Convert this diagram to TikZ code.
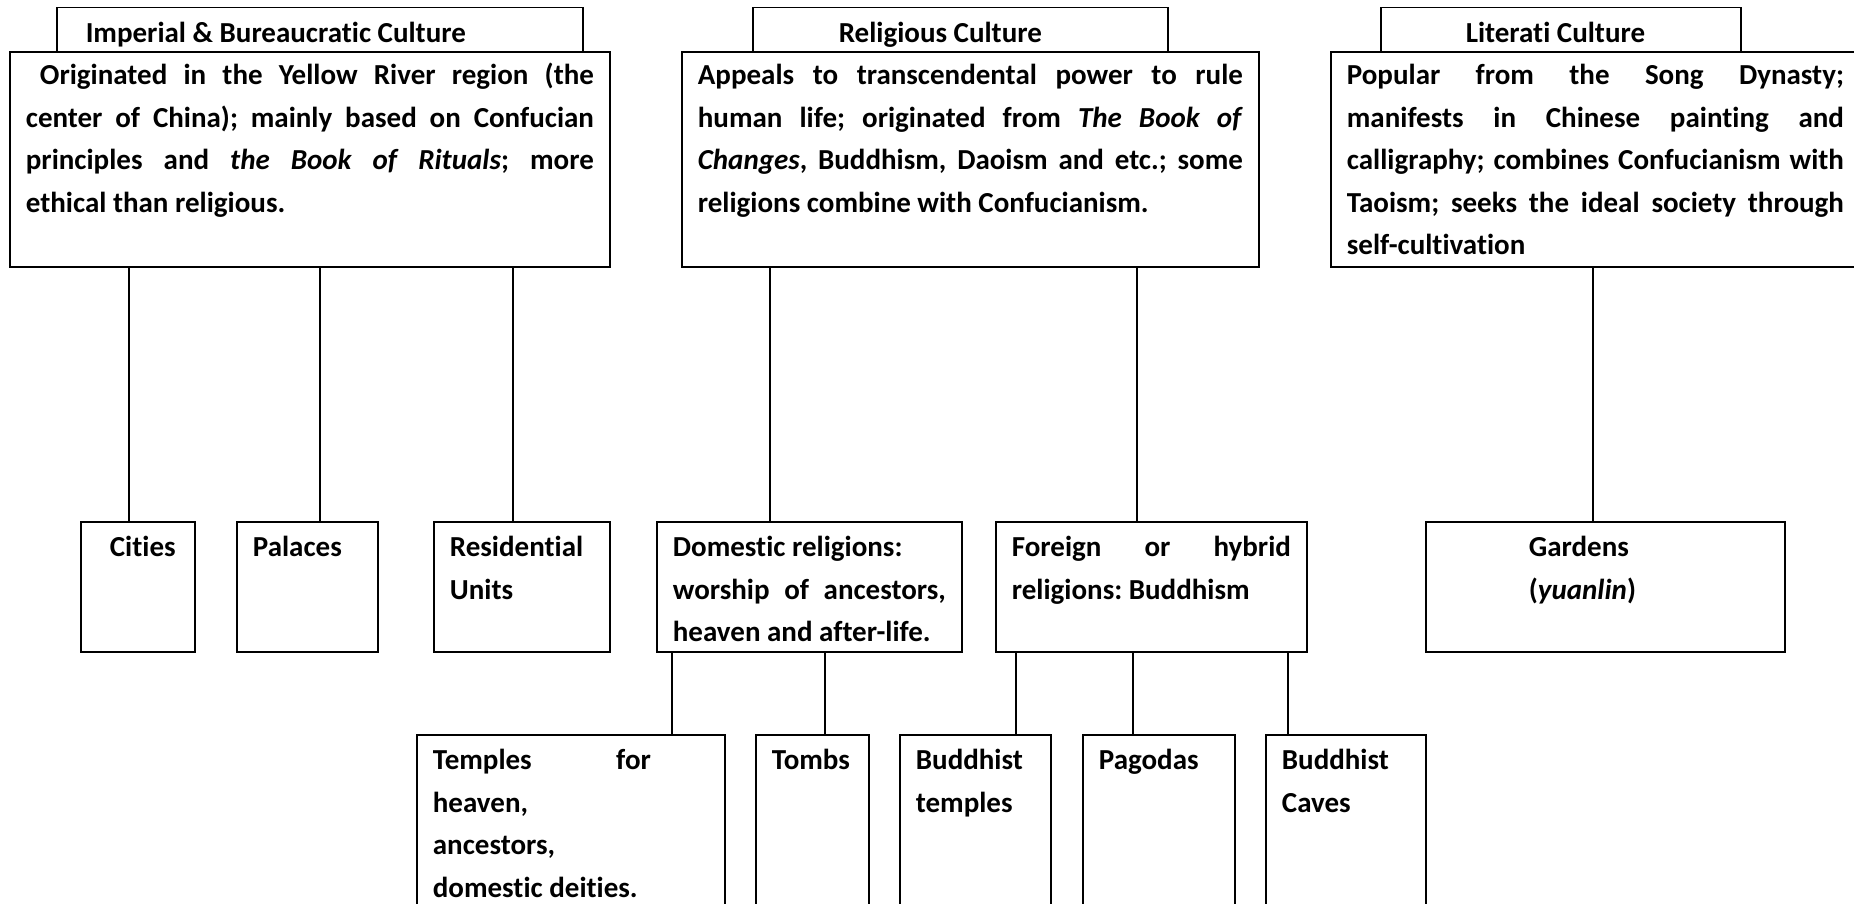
\documentclass[tikz,border=0pt]{standalone}
\usepackage{fontspec}
\setmainfont{Carlito}[Ligatures={NoCommon}]
\usepackage{tikz}
\exhyphenpenalty=10000
\hyphenpenalty=10000
\frenchspacing

\begin{document}
\begin{tikzpicture}[x=1pt,y=-1pt,every text node part/.style={align=justify}]
  \tikzstyle{box}=[draw,line width=1.8pt,anchor=north west,fill=white,
    inner xsep=16pt,inner ysep=0pt,text height=35pt,
    font=\fontsize{29}{42.5}\selectfont\bfseries]
  \tikzstyle{culture}=[box,text height=33pt,text depth=182pt]
  \tikzstyle{title}=[box,line width=1.5pt,inner xsep=0pt,
    text height=35pt,text depth=9pt]
  \tikzstyle{link}=[line width=1.3pt]
  \clip (0,0) rectangle (1854,904);

  \node [title,text width=526pt] (impT) at (56,7) {\hspace*{29pt}Imperial \& Bureaucratic Culture};
  \node [title,text width=415pt] (relT) at (752,7) {\hspace*{86pt}Religious Culture};
  \node [title,text width=360pt] (litT) at (1380,7) {\hspace*{85pt}Literati Culture};

  \node [culture,text width=568pt] (imp) at (9,51) {
    \hspace*{14pt}Originated in the Yellow River region (the\linebreak
    center of China); mainly based on Confucian\linebreak
    principles and \textit{the Book of Rituals}; more\linebreak
    ethical than religious.};
  \node [culture,text width=545pt] (rel) at (681,51) {
    Appeals to transcendental power to rule\linebreak
    human life; originated from \textit{The Book of}\linebreak
    \textit{Changes}, Buddhism, Daoism and etc.; some\linebreak
    religions combine with Confucianism.};
  \node [culture,text width=497pt] (lit) at (1330,51) {
    Popular from the Song Dynasty;\linebreak
    manifests in Chinese painting and\linebreak
    calligraphy; combines Confucianism with\linebreak
    Taoism; seeks the ideal society through\linebreak
    self-cultivation};

  \node [box,text width=82pt,text depth=95pt] (cities) at (80,521) {\hspace*{13pt}Cities};
  \node [box,text width=109pt,text depth=95pt] (palaces) at (236,521) {Palaces};
  \node [box,text width=144pt,text depth=95pt] (units) at (433,521) {Residential\\Units};
  \node [box,text width=273pt,text depth=95pt] (domestic) at (656,521) {
    Domestic religions:\\
    worship of ancestors,\linebreak
    heaven and after-life.};
  \node [box,text width=279pt,text depth=95pt] (foreign) at (995,521) {
    Foreign or hybrid\linebreak
    religions: Buddhism};
  \node [box,text width=327pt,text depth=95pt] (gardens) at (1425,521) {
    \hspace*{87pt}Gardens\\
    \hspace*{87pt}(\textit{yuanlin})};

  \node [box,text width=276pt,text depth=165pt] (temples) at (416,734) {
    \parbox[t]{218pt}{Temples for\linebreak
    heaven,\\ancestors,\\domestic deities.}};
  \node [box,text width=81pt,text depth=165pt] (tombs) at (755,734) {Tombs};
  \node [box,text width=119pt,text depth=165pt] (btemples) at (899,734) {Buddhist\\temples};
  \node [box,text width=120pt,text depth=165pt] (pagodas) at (1082,734) {Pagodas};
  \node [box,text width=128pt,text depth=165pt] (caves) at (1265,734) {Buddhist\\Caves};

  \draw [link] (imp.south -| 129,0) -- (cities.north -| 129,0);
  \draw [link] (imp.south -| 320,0) -- (palaces.north -| 320,0);
  \draw [link] (imp.south -| 513,0) -- (units.north -| 513,0);
  \draw [link] (rel.south -| 770,0) -- (domestic.north -| 770,0);
  \draw [link] (rel.south -| 1137,0) -- (foreign.north -| 1137,0);
  \draw [link] (lit.south -| 1593,0) -- (gardens.north -| 1593,0);
  \draw [link] (domestic.south -| 672,0) -- (temples.north -| 672,0);
  \draw [link] (domestic.south -| 825,0) -- (tombs.north -| 825,0);
  \draw [link] (foreign.south -| 1016,0) -- (btemples.north -| 1016,0);
  \draw [link] (foreign.south -| 1133,0) -- (pagodas.north -| 1133,0);
  \draw [link] (foreign.south -| 1288,0) -- (caves.north -| 1288,0);
\end{tikzpicture}
\end{document}
